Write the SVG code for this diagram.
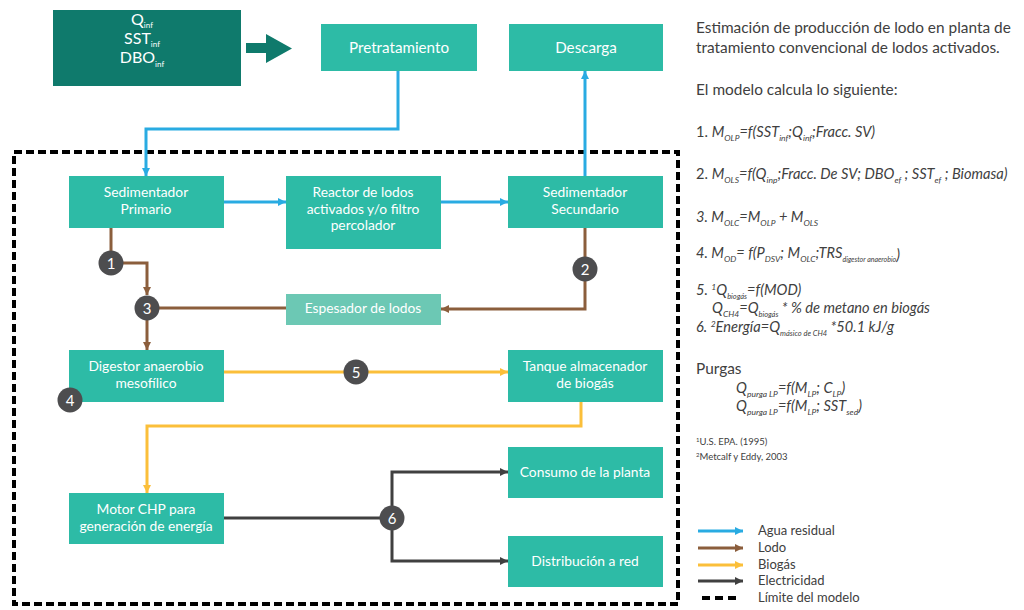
<svg xmlns="http://www.w3.org/2000/svg" width="1024" height="610" viewBox="0 0 1024 610">
<style>
.box{fill:#2dbba6}
.bt{font-family:Lato,"Open Sans","Liberation Sans",sans-serif;font-size:13.8px;fill:#ffffff;text-anchor:middle}
.c{fill:#4d4d4f}
.ct{font-family:Lato,"Liberation Sans",sans-serif;font-size:15px;fill:#ffffff;text-anchor:middle}
.ln{fill:none;stroke-width:3}
.w{stroke:#29abe2}.s{stroke:#8b5e3c}.g{stroke:#fbbf3a}.e{stroke:#404040}
.tx{font-family:Lato,"Open Sans","Liberation Sans",sans-serif;font-size:14.6px;fill:#404040}
.pl{font-size:15.4px}
.it{font-style:italic}
.lg{font-family:Lato,"Open Sans","Liberation Sans",sans-serif;font-size:13px;fill:#404040}
.ref{font-family:Lato,"Liberation Sans",sans-serif;font-size:9.5px;fill:#404040}
</style>
<defs>
<marker id="aw" viewBox="0 0 10 10" refX="10" refY="5" markerWidth="8" markerHeight="8" markerUnits="userSpaceOnUse" orient="auto"><path d="M0,0L10,5L0,10z" fill="#29abe2"/></marker>
<marker id="as" viewBox="0 0 10 10" refX="10" refY="5" markerWidth="8" markerHeight="8" markerUnits="userSpaceOnUse" orient="auto"><path d="M0,0L10,5L0,10z" fill="#8b5e3c"/></marker>
<marker id="ag" viewBox="0 0 10 10" refX="10" refY="5" markerWidth="8" markerHeight="8" markerUnits="userSpaceOnUse" orient="auto"><path d="M0,0L10,5L0,10z" fill="#fbbf3a"/></marker>
<marker id="ae" viewBox="0 0 10 10" refX="10" refY="5" markerWidth="8" markerHeight="8" markerUnits="userSpaceOnUse" orient="auto"><path d="M0,0L10,5L0,10z" fill="#404040"/></marker>
</defs>
<rect width="1024" height="610" fill="#ffffff"/>

<rect id="limite" x="14" y="152" width="664" height="452" fill="none" stroke="#000" stroke-width="4" stroke-dasharray="8 4"/>

<g id="connectors">
<polygon points="246,43 266,43 266,34 292,48.5 266,63 266,53 246,53" fill="#0f7a6c"/>
<path class="ln w" d="M398,71V129H146V176" marker-end="url(#aw)"/>
<path class="ln w" d="M224,202H286" marker-end="url(#aw)"/>
<path class="ln w" d="M441,202H508" marker-end="url(#aw)"/>
<path class="ln w" d="M585,176V71" marker-end="url(#aw)"/>
<path class="ln s" d="M111,228V263"/>
<path class="ln s" d="M111,263H147V295" marker-end="url(#as)"/>
<path class="ln s" d="M147,308H286"/>
<path class="ln s" d="M147,308V350" marker-end="url(#as)"/>
<path class="ln s" d="M585,228V309H441" marker-end="url(#as)"/>
<path class="ln g" d="M224,372H508" marker-end="url(#ag)"/>
<path class="ln g" d="M581,402V426H147V493" marker-end="url(#ag)"/>
<path class="ln e" d="M224,518H392"/>
<path class="ln e" d="M392,518V472H508" marker-end="url(#ae)"/>
<path class="ln e" d="M392,518V561H508" marker-end="url(#ae)"/>
</g>

<g id="entrada">
<rect x="53" y="10" width="188" height="76" fill="#0f7a6c"/>
<text class="bt" style="font-size:16px" x="142" y="25">Q<tspan font-size="8" dy="3">inf</tspan></text>
<text class="bt" style="font-size:16px" x="142" y="44">SST<tspan font-size="8" dy="3">inf</tspan></text>
<text class="bt" style="font-size:16px" x="142" y="63">DBO<tspan font-size="8" dy="4">inf</tspan></text>
</g>
<g id="pretratamiento"><rect class="box" x="321" y="24" width="156" height="47"/><text class="bt" style="font-size:15.2px" x="399" y="53">Pretratamiento</text></g>
<g id="descarga"><rect class="box" x="509" y="24" width="154" height="47"/><text class="bt" style="font-size:15.2px" x="586" y="53">Descarga</text></g>
<g id="sed-primario"><rect class="box" x="69" y="176" width="155" height="52"/><text class="bt" x="146" y="197">Sedimentador</text><text class="bt" x="146" y="214">Primario</text></g>
<g id="reactor"><rect class="box" x="286" y="176" width="155" height="73"/><text class="bt" x="363" y="197">Reactor de lodos</text><text class="bt" x="363" y="214">activados y/o filtro</text><text class="bt" x="363" y="230">percolador</text></g>
<g id="sed-secundario"><rect class="box" x="508" y="176" width="155" height="52"/><text class="bt" x="585" y="197">Sedimentador</text><text class="bt" x="585" y="214">Secundario</text></g>
<g id="espesador"><rect x="286" y="294" width="155" height="31" fill="#6cc8b4"/><text class="bt" x="363" y="313">Espesador de lodos</text></g>
<g id="digestor"><rect class="box" x="69" y="350" width="155" height="52"/><text class="bt" x="146" y="371">Digestor anaerobio</text><text class="bt" x="146" y="388">mesofílico</text></g>
<g id="tanque"><rect class="box" x="508" y="350" width="155" height="52"/><text class="bt" x="585" y="371">Tanque almacenador</text><text class="bt" x="585" y="388">de biogás</text></g>
<g id="motor"><rect class="box" x="69" y="493" width="155" height="51"/><text class="bt" x="146" y="514">Motor CHP para</text><text class="bt" x="146" y="531">generación de energía</text></g>
<g id="consumo"><rect class="box" x="508" y="447" width="155" height="51"/><text class="bt" x="585" y="477">Consumo de la planta</text></g>
<g id="distribucion"><rect class="box" x="508" y="536" width="155" height="51"/><text class="bt" x="585" y="566">Distribución a red</text></g>

<g id="n1"><circle class="c" cx="111" cy="263" r="12.5"/><text class="ct" x="111" y="268.5">1</text></g>
<g id="n2"><circle class="c" cx="585" cy="269" r="12.5"/><text class="ct" x="585" y="274.5">2</text></g>
<g id="n3"><circle class="c" cx="147" cy="308" r="12.5"/><text class="ct" x="147" y="313.5">3</text></g>
<g id="n4"><circle class="c" cx="70" cy="400" r="12.5"/><text class="ct" x="70" y="405.5">4</text></g>
<g id="n5"><circle class="c" cx="356" cy="372" r="12.5"/><text class="ct" x="356" y="377.5">5</text></g>
<g id="n6"><circle class="c" cx="392" cy="518" r="12.5"/><text class="ct" x="392" y="523.5">6</text></g>

<g id="descripcion">
<text class="tx pl" x="696" y="33">Estimación de producción de lodo en planta de</text>
<text class="tx pl" x="696" y="53">tratamiento convencional de lodos activados.</text>
<text class="tx pl" x="696" y="95">El modelo calcula lo siguiente:</text>
<text class="tx" x="696" y="137">1. <tspan class="it">M<tspan font-size="8.5" dy="4">OLP</tspan><tspan dy="-4">=f(SST</tspan><tspan font-size="8.5" dy="4">inf</tspan><tspan dy="-4">;Q</tspan><tspan font-size="8.5" dy="4">inf</tspan><tspan dy="-4">;Fracc. SV)</tspan></tspan></text>
<text class="tx" x="696" y="179">2. <tspan class="it">M<tspan font-size="8.5" dy="4">OLS</tspan><tspan dy="-4">=f(Q</tspan><tspan font-size="8.5" dy="4">inp</tspan><tspan dy="-4">;Fracc. De SV; DBO</tspan><tspan font-size="8.5" dy="4">ef</tspan><tspan dy="-4"> ; SST</tspan><tspan font-size="8.5" dy="4">ef</tspan><tspan dy="-4"> ; Biomasa)</tspan></tspan></text>
<text class="tx it" x="696" y="222">3. M<tspan font-size="8.5" dy="4">OLC</tspan><tspan dy="-4">=M</tspan><tspan font-size="8.5" dy="4">OLP</tspan><tspan dy="-4"> + M</tspan><tspan font-size="8.5" dy="4">OLS</tspan></text>
<text class="tx it" x="696" y="258">4. M<tspan font-size="8.5" dy="4">OD</tspan><tspan dy="-4">= f(P</tspan><tspan font-size="8.5" dy="4">DSV</tspan><tspan dy="-4">; M</tspan><tspan font-size="8.5" dy="4">OLC</tspan><tspan dy="-4">;TRS</tspan><tspan font-size="7" dy="4">digestor anaerobio</tspan><tspan dy="-2">)</tspan></text>
<text class="tx it" x="696" y="295">5. <tspan font-size="8.5" dy="-5">1</tspan><tspan dy="5">Q</tspan><tspan font-size="7.5" dy="4">biogás</tspan><tspan dy="-4">=f(MOD)</tspan></text>
<text class="tx it" x="712" y="313">Q<tspan font-size="8.5" dy="4">CH4</tspan><tspan dy="-4">=Q</tspan><tspan font-size="7.5" dy="4">biogás</tspan><tspan dy="-4"> * % de metano en biogás</tspan></text>
<text class="tx it" x="696" y="332">6. <tspan font-size="8.5" dy="-5">2</tspan><tspan dy="5">Energía=Q</tspan><tspan font-size="7.5" dy="4">másico de CH4</tspan><tspan dy="-4"> *50.1 kJ/g</tspan></text>
<text class="tx pl" x="696" y="374">Purgas</text>
<text class="tx it" x="736" y="393">Q<tspan font-size="8.5" dy="4">purga LP</tspan><tspan dy="-4">=f(M</tspan><tspan font-size="8.5" dy="4">LP</tspan><tspan dy="-4">; C</tspan><tspan font-size="8.5" dy="4">LP</tspan><tspan dy="-4">)</tspan></text>
<text class="tx it" x="736" y="411">Q<tspan font-size="8.5" dy="4">purga LP</tspan><tspan dy="-4">=f(M</tspan><tspan font-size="8.5" dy="4">LP</tspan><tspan dy="-4">; SST</tspan><tspan font-size="8.5" dy="4">sed</tspan><tspan dy="-4">)</tspan></text>
<text class="ref" x="696" y="445"><tspan font-size="6" dy="-3">1</tspan><tspan dy="3">U.S. EPA. (1995)</tspan></text>
<text class="ref" x="696" y="460"><tspan font-size="6" dy="-3">2</tspan><tspan dy="3">Metcalf y Eddy, 2003</tspan></text>
</g>

<g id="leyenda">
<path class="ln w" d="M698,531H743" marker-end="url(#aw)"/>
<path class="ln s" d="M698,548H743" marker-end="url(#as)"/>
<path class="ln g" d="M698,565H743" marker-end="url(#ag)"/>
<path class="ln e" d="M698,581H743" marker-end="url(#ae)"/>
<path d="M702,598H740" fill="none" stroke="#000" stroke-width="4" stroke-dasharray="8 5"/>
<text class="lg" x="758" y="535">Agua residual</text>
<text class="lg" x="758" y="552">Lodo</text>
<text class="lg" x="758" y="569">Biogás</text>
<text class="lg" x="758" y="585">Electricidad</text>
<text class="lg" x="758" y="602">Límite del modelo</text>
</g>
</svg>
